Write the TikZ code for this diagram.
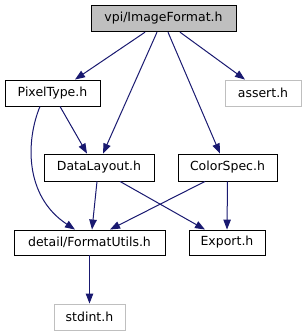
\documentclass[tikz,border=0pt]{standalone}
\usepackage{fontspec}
\setmainfont{DejaVu Sans}
\usetikzlibrary{arrows.meta}
\definecolor{edgec}{HTML}{191970}
\definecolor{grayb}{HTML}{BFBFBF}
\definecolor{topfill}{HTML}{BFBFBF}
\begin{document}
\begin{tikzpicture}[x=1pt,y=-1pt,
  box/.style={draw=black,line width=0.9pt,rectangle,inner sep=0pt,font=\fontsize{12.5}{15}\selectfont},
  extbox/.style={box,draw=grayb},
  dep/.style={draw=edgec,line width=1pt,-{Triangle[length=10pt,width=7.5pt]}}]
\useasboundingbox (0,0) rectangle (306,336);
\node[box,fill=topfill,minimum width=145pt,minimum height=26.5pt] (top) at (163.5,18.5) {vpi/ImageFormat.h};
\node[box,minimum width=95pt,minimum height=26pt] (pixel) at (52.5,93) {PixelType.h};
\node[extbox,minimum width=76pt,minimum height=26pt] (assert) at (263,93) {assert.h};
\node[box,minimum width=110pt,minimum height=27pt] (data) at (99,167.5) {DataLayout.h};
\node[box,minimum width=99pt,minimum height=27pt] (color) at (227.5,167.5) {ColorSpec.h};
\node[box,minimum width=151pt,minimum height=25pt] (fmt) at (89.5,242.5) {detail/FormatUtils.h};
\node[box,minimum width=76pt,minimum height=25pt] (export) at (227,242.5) {Export.h};
\node[extbox,minimum width=71pt,minimum height=26pt] (stdint) at (89.5,317) {stdint.h};
\draw[dep] ([xshift=-18.5pt]top.south) -- ([xshift=22.5pt]pixel.north);
\draw[dep] ([xshift=-6.5pt]top.south) -- ([xshift=4pt]data.north);
\draw[dep] ([xshift=4.5pt]top.south) -- ([xshift=-7.5pt]color.north);
\draw[dep] ([xshift=16.5pt]top.south) -- ([xshift=-18pt]assert.north);
\draw[dep] ([xshift=7.5pt]pixel.south) -- ([xshift=-12pt]data.north);
\draw[dep] ([xshift=-12.5pt]pixel.south) .. controls (26,140) and (24,196) .. ([xshift=-14.5pt]fmt.north);
\draw[dep] ([xshift=-2pt]data.south) -- ([xshift=2.5pt]fmt.north);
\draw[dep] ([xshift=21pt]data.south) -- ([xshift=-22pt]export.north);
\draw[dep] ([xshift=-22.5pt]color.south) -- ([xshift=20.5pt]fmt.north);
\draw[dep] (color.south) -- (export.north);
\draw[dep] (fmt.south) -- (stdint.north);
\end{tikzpicture}
\end{document}
